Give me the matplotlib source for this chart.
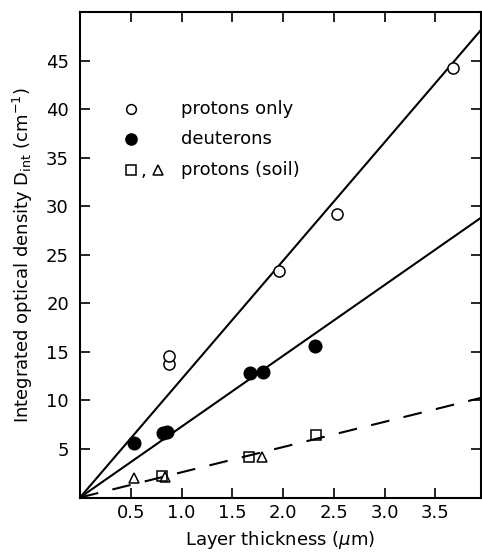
import matplotlib
matplotlib.use("Agg")
import matplotlib.pyplot as plt
import numpy as np

# measured optical densities vs layer thickness
protons_x = [0.88, 0.88, 1.96, 2.53, 3.67]
protons_y = [13.8, 14.6, 23.3, 29.2, 44.3]
deut_x = [0.53, 0.815, 0.86, 1.67, 1.80, 2.31]
deut_y = [5.65, 6.6, 6.8, 12.8, 12.9, 15.6]
soil_sq_x = [0.805, 1.66, 2.32]
soil_sq_y = [2.25, 4.2, 6.4]
soil_tri_x = [0.53, 0.84, 1.79]
soil_tri_y = [1.98, 2.1, 4.14]

# fitted slopes (lines through the origin)
slope_protons = 12.2
slope_deut = 7.3
slope_soil = 2.6

xticks = [0.5, 1.0, 1.5, 2.0, 2.5, 3.0, 3.5]
yticks = [5, 10, 15, 20, 25, 30, 35, 40, 45]
xmax, ymax = 3.95, 50.0

plt.rcParams["font.family"] = ["DejaVu Sans"]
FS = 13

fig = plt.figure(figsize=(4.82, 5.52), dpi=100)
ax = fig.add_axes([0.166, 0.0987, 0.832, 0.879])

xs = np.array([0.0, xmax])
ax.plot(xs, slope_protons * xs, color="black", lw=1.5)
ax.plot(xs, slope_deut * xs, color="black", lw=1.5)
ax.plot(xs, slope_soil * xs, color="black", lw=1.5, dashes=(9, 7))

mk = dict(linestyle="none", color="black", mew=1.1)
ax.plot(protons_x, protons_y, marker="o", ms=8, mfc="white", **mk)
ax.plot(deut_x, deut_y, marker="o", ms=9, mfc="black", **mk)
ax.plot(soil_sq_x, soil_sq_y, marker="s", ms=7, mfc="none", **mk)
ax.plot(soil_tri_x, soil_tri_y, marker="^", ms=7, mfc="none", **mk)

# key drawn inside the axes
ax.plot([0.50], [40.0], marker="o", ms=7, mfc="white", **mk)
ax.plot([0.50], [36.9], marker="o", ms=8, mfc="black", **mk)
ax.plot([0.50], [33.8], marker="s", ms=6.5, mfc="none", **mk)
ax.plot([0.77], [33.8], marker="^", ms=6.5, mfc="none", **mk)
ax.text(0.60, 33.6, ",", fontsize=FS, ha="left", va="center")
for yy, label in [(40.0, "protons only"), (36.9, "deuterons"), (33.8, "protons (soil)")]:
    ax.text(0.99, yy, label, fontsize=FS, ha="left", va="center")

ax.set_xlim(0, xmax)
ax.set_ylim(0, ymax)
ax.set_xticks(xticks)
ax.set_xticklabels([f"{v:.1f}" for v in xticks])
ax.set_yticks(yticks)
ax.tick_params(direction="in", length=7, width=1.2, top=True, right=True,
               labelsize=FS)
ax.tick_params(axis="x", pad=5)
ax.tick_params(axis="y", pad=8)
for sp in ax.spines.values():
    sp.set_linewidth(1.5)

ax.set_xlabel(r"Layer thickness ($\mu$m)", fontsize=FS, labelpad=5)
ax.set_ylabel(r"Integrated optical density D$_{\rm int}$ (cm$^{-1}$)", fontsize=FS,
              labelpad=8)

fig.savefig("out.png", dpi=100)
